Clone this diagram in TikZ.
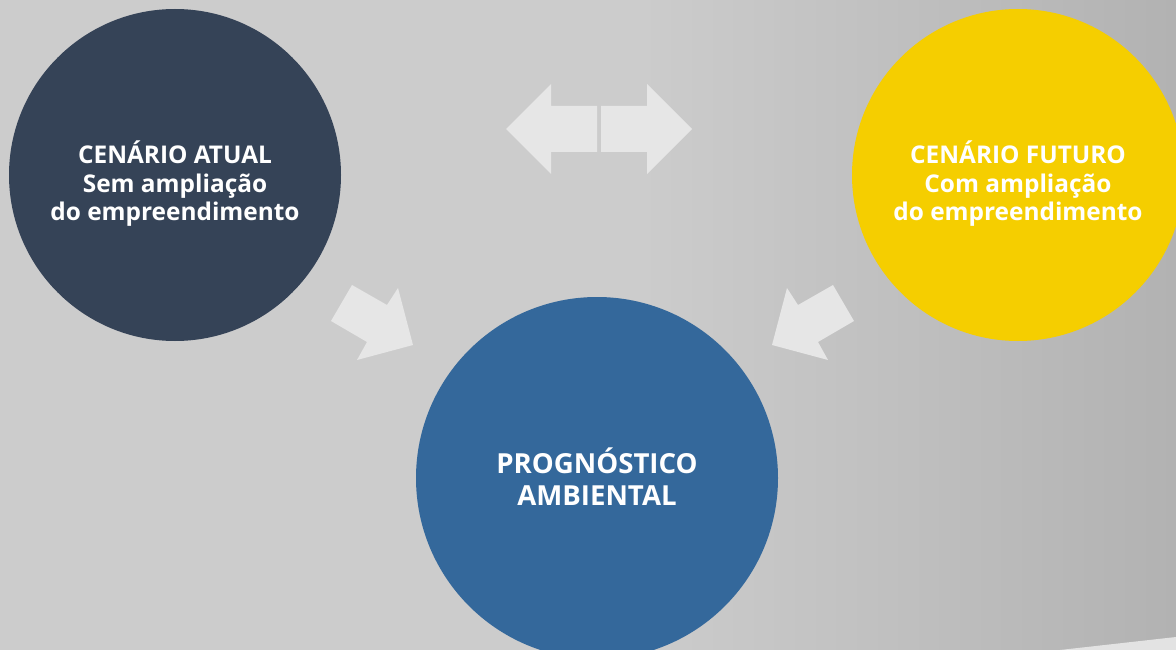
\documentclass[tikz,border=0pt]{standalone}
\usepackage{fontspec}
\setmainfont{Open Sans}
\definecolor{bgplain}{HTML}{CCCCCC}
\definecolor{bgdark}{HTML}{B2B2B2}
\definecolor{bgwedge}{HTML}{E3E3E3}
\definecolor{arrowgray}{HTML}{E6E6E6}
\definecolor{slate}{HTML}{354357}
\definecolor{steelblue}{HTML}{34689B}
\definecolor{sunyellow}{HTML}{F5CE00}
\begin{document}
\begin{tikzpicture}[x=1pt,y=-1pt,
    disc/.style={circle,inner sep=0pt,minimum size=332pt},
    disctext/.style={text=white,align=center,font=\bfseries\fontsize{24.4}{28.5}\selectfont},
    blockarrow/.style={fill=arrowgray}]
    \useasboundingbox (0,0) rectangle (1176,650);
    % background
    \fill[bgplain] (0,0) rectangle (1176,650);
    \shade[left color=bgplain,right color=bgdark] (640,0) rectangle (1176,650);
    \fill[bgwedge] (1060,650) -- (1176,637) -- (1176,650) -- cycle;
    % circles
    \node[disc,fill=slate] (atual) at (175,175) {};
    \node[disc,fill=sunyellow] (futuro) at (1018,175) {};
    \node[disc,fill=steelblue,minimum size=362pt] (prog) at (597,478) {};
    \node[disctext] (atualtext) at ([yshift=-9pt]atual.center)
      {CENÁRIO ATUAL\\Sem ampliação\\do empreendimento};
    \node[disctext] (futurotext) at ([yshift=-9pt]futuro.center)
      {CENÁRIO FUTURO\\Com ampliação\\do empreendimento};
    \node[disctext,font=\bfseries\fontsize{27.6}{32}\selectfont] (progtext) at ([yshift=1pt]prog.center)
      {PROGNÓSTICO\\AMBIENTAL};
    % double arrow
    \fill[blockarrow] (506,129) -- (551,84) -- (551,106) -- (597,106)
      -- (597,152) -- (551,152) -- (551,174) -- cycle;
    \fill[blockarrow] (692,129) -- (647,84) -- (647,106) -- (601,106)
      -- (601,152) -- (647,152) -- (647,174) -- cycle;
    % diagonal arrows
    \fill[blockarrow] (352,285) -- (387,305) -- (398,288) -- (413,345)
      -- (357,360) -- (367,342) -- (331,321) -- cycle;
    \fill[blockarrow] (833,285) -- (798,305) -- (787,288) -- (772,345)
      -- (828,360) -- (818,342) -- (854,321) -- cycle;
\end{tikzpicture}
\end{document}
